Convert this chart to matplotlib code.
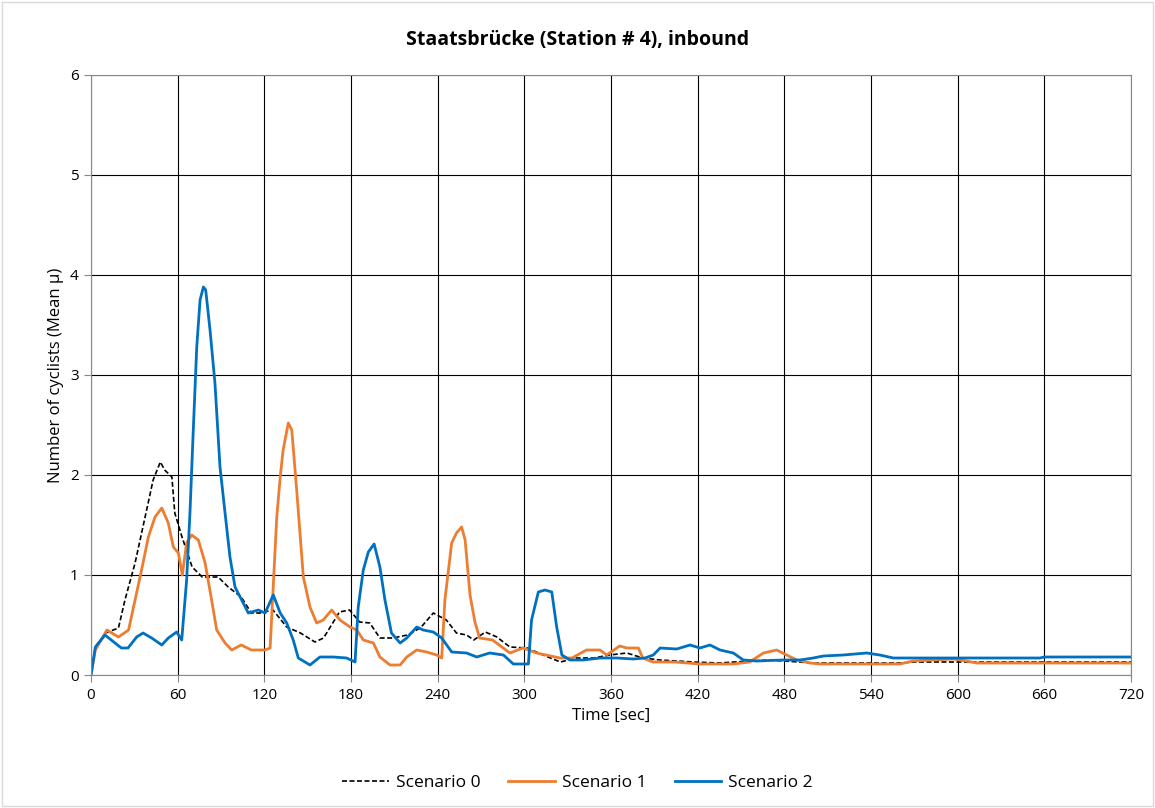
import matplotlib.pyplot as plt
from matplotlib.patches import Rectangle

plt.rcParams['font.family'] = ['Open Sans', 'DejaVu Sans']

# scenario 0 (black dashed)
t0 = [0, 3, 10, 19, 23.5, 30.5, 38.5, 43, 48, 51, 56, 58, 63, 70, 77, 88, 95, 104, 111, 117,
      126, 135.5, 145, 155, 161, 172, 179, 186, 193, 200, 209, 219, 228, 237, 246, 253, 260,
      265, 273, 281, 290, 302, 313, 325, 336, 348, 359, 371, 382, 394, 417, 435, 456, 470,
      500, 560, 570, 600, 720]
v0 = [0, 0.28, 0.42, 0.47, 0.75, 1.12, 1.65, 1.95, 2.13, 2.05, 1.98, 1.62, 1.38, 1.08, 0.98,
      0.98, 0.88, 0.78, 0.62, 0.62, 0.65, 0.48, 0.42, 0.33, 0.37, 0.63, 0.65, 0.53, 0.52, 0.37,
      0.37, 0.40, 0.47, 0.62, 0.55, 0.42, 0.40, 0.35, 0.43, 0.38, 0.28, 0.27, 0.20, 0.13, 0.17,
      0.17, 0.20, 0.22, 0.17, 0.15, 0.13, 0.12, 0.14, 0.15, 0.12, 0.12, 0.13, 0.13, 0.13]

# scenario 1 (orange)
t1 = [0, 3, 11, 19, 26, 30.5, 35, 39.7, 44.3, 49, 53.5, 57, 60.5, 63.2, 66.2, 69.7, 74.3, 79,
      83.5, 87, 92.8, 97.4, 104, 111, 120.5, 124, 128.6, 131, 133, 136.6, 139, 142.4, 147,
      151.6, 156.2, 160.8, 166.6, 172.4, 179.3, 184, 188.5, 195.5, 200, 207, 214, 218.6,
      225.5, 232.4, 239.3, 242.8, 245, 249.7, 253, 256.6, 259, 262.4, 265.8, 269, 278, 290,
      299, 308.5, 324.7, 333, 343, 352.4, 357, 366, 371, 379, 382, 389, 404, 421.6, 444.7,
      456, 465.5, 474.7, 481.6, 488.6, 497.8, 504.7, 560, 569, 583, 597, 606, 613, 720]
v1 = [0, 0.25, 0.45, 0.38, 0.45, 0.75, 1.05, 1.38, 1.58, 1.67, 1.52, 1.28, 1.22, 1.0, 1.32,
      1.40, 1.35, 1.12, 0.75, 0.45, 0.32, 0.25, 0.30, 0.25, 0.25, 0.27, 1.58, 1.98, 2.25,
      2.52, 2.45, 1.85, 0.98, 0.68, 0.52, 0.55, 0.65, 0.55, 0.48, 0.45, 0.35, 0.32, 0.18,
      0.10, 0.10, 0.18, 0.25, 0.23, 0.20, 0.17, 0.75, 1.32, 1.42, 1.48, 1.35, 0.80, 0.53,
      0.37, 0.35, 0.22, 0.27, 0.22, 0.17, 0.17, 0.25, 0.25, 0.20, 0.29, 0.27, 0.27, 0.17,
      0.13, 0.13, 0.11, 0.11, 0.13, 0.22, 0.25, 0.20, 0.15, 0.12, 0.11, 0.11, 0.14, 0.15,
      0.16, 0.14, 0.12, 0.12]

# scenario 2 (blue)
t2 = [0, 3, 9.7, 16.6, 21, 25.6, 31.6, 36, 42, 49, 53.5, 59.3, 62.8, 66.2, 68.5, 70.8, 73.2,
      75.5, 77.8, 79.4, 82.4, 85.8, 89.3, 92.8, 96.2, 99.7, 104.3, 108.9, 115.8, 120.5, 126.2,
      131, 135.5, 140, 143.5, 151.6, 158.5, 167.8, 177, 182.8, 185, 188.5, 192, 196, 200,
      203.5, 208, 214, 218.6, 225.5, 230, 237, 242.8, 249.7, 260, 267, 276, 285.5, 292.4,
      302.8, 305, 309.7, 314.3, 319, 322.4, 326, 331.6, 340.8, 352.4, 364, 375.4, 383.5,
      389.3, 394, 405.5, 414.7, 421.6, 428.5, 435.5, 444.7, 451.6, 460.8, 479.3, 490.8, 500,
      507, 520.8, 537, 546, 555.5, 657, 660, 720]
v2 = [0, 0.28, 0.40, 0.32, 0.27, 0.27, 0.38, 0.42, 0.37, 0.30, 0.37, 0.43, 0.35, 0.95, 1.62,
      2.45, 3.28, 3.75, 3.88, 3.85, 3.45, 2.92, 2.08, 1.62, 1.18, 0.88, 0.75, 0.62, 0.65, 0.62,
      0.80, 0.62, 0.52, 0.35, 0.17, 0.10, 0.18, 0.18, 0.17, 0.13, 0.68, 1.05, 1.23, 1.31, 1.08,
      0.75, 0.42, 0.32, 0.37, 0.48, 0.45, 0.43, 0.37, 0.23, 0.22, 0.18, 0.22, 0.20, 0.11, 0.11,
      0.55, 0.83, 0.85, 0.83, 0.48, 0.20, 0.15, 0.15, 0.17, 0.17, 0.16, 0.17, 0.20, 0.27, 0.26,
      0.30, 0.27, 0.30, 0.25, 0.22, 0.15, 0.14, 0.15, 0.15, 0.17, 0.19, 0.20, 0.22, 0.20, 0.17,
      0.17, 0.18, 0.18]

x_ticks = list(range(0, 721, 60))
y_ticks = list(range(0, 7))

fig = plt.figure(figsize=(11.55, 8.08), dpi=100)
ax = fig.add_axes([0.0788, 0.1646, 0.9004, 0.7426])

ax.plot(t0, v0, color='black', linestyle=(0, (3, 1.5)), linewidth=1.2, label='Scenario 0')
ax.plot(t1, v1, color='#ED7D31', linewidth=2, label='Scenario 1')
ax.plot(t2, v2, color='#0070C0', linewidth=2, label='Scenario 2')

ax.set_xlim(0, 720)
ax.set_ylim(0, 6)
ax.set_xticks(x_ticks)
ax.set_yticks(y_ticks)
ax.grid(True, color='black', linewidth=0.8)
ax.set_axisbelow(True)
for s in ax.spines.values():
    s.set_color('#888888')
ax.tick_params(direction='out', length=5, color='#888888', labelsize=11, pad=4)

ax.set_xlabel('Time [sec]', fontsize=12)
ax.set_ylabel('Number of cyclists (Mean µ)', fontsize=12)
fig.text(0.5, 0.951, 'Staatsbrücke (Station # 4), inbound', ha='center', va='center',
         fontsize=14, fontweight='bold')

fig.legend(loc='center', bbox_to_anchor=(0.5, 0.031), ncol=3, frameon=False, fontsize=12.5,
           handlelength=2.7, handletextpad=0.4, columnspacing=1.6)

fig.patches.append(Rectangle((0.002, 0.002), 0.996, 0.996, transform=fig.transFigure,
                             fill=False, edgecolor='#d9d9d9', linewidth=1))

fig.savefig('out.png', dpi=100)
